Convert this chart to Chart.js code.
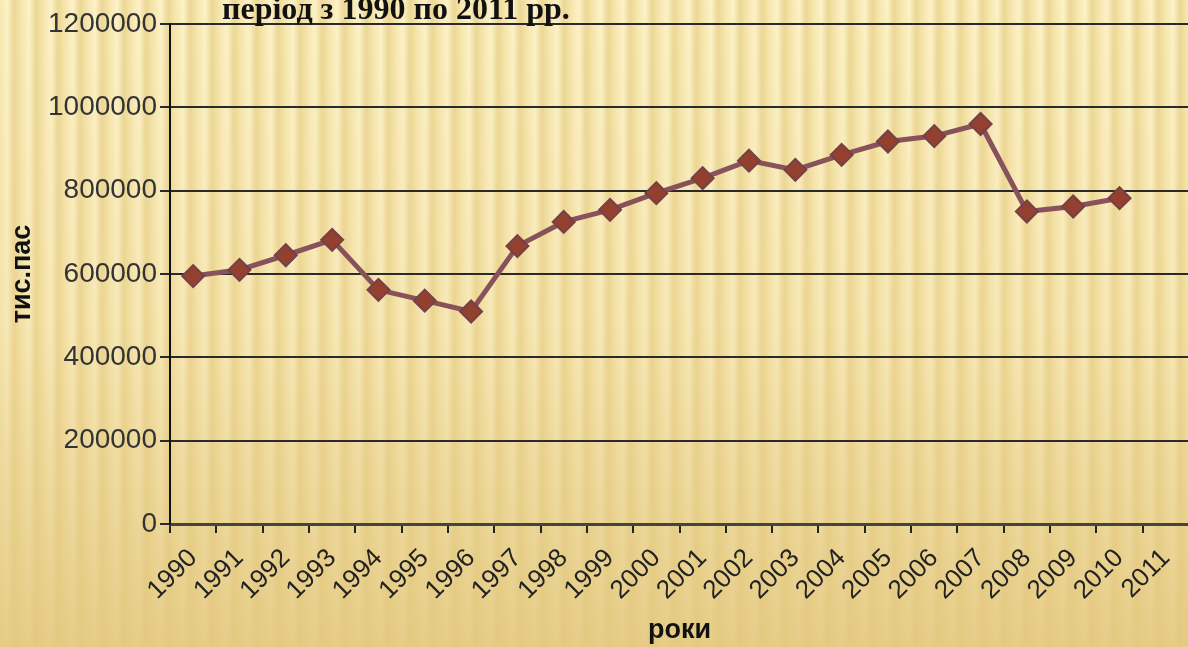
<!DOCTYPE html>
<html>
<head>
<meta charset="utf-8">
<script src="https://cdn.jsdelivr.net/npm/chart.js@4/dist/chart.umd.min.js"></script>
<style>
  html, body { margin: 0; padding: 0; }
  body {
    width: 1188px; height: 647px; overflow: hidden; position: relative;
    background:
      linear-gradient(180deg, rgba(250,238,185,0) 0%, rgba(232,205,135,0.25) 50%, rgba(226,198,125,0.85) 100%),
      repeating-linear-gradient(90deg, #f7e8b0 0px, #fcf2c9 7px, #ecd795 14px, #f7e8b0 22px);
  }
  #wrap { position: absolute; left: 0; top: 0; width: 1188px; height: 647px; overflow: hidden; }
  #title {
    position: absolute; left: 222px; top: -10px; line-height: 1;
    font: bold 32px "Liberation Serif", "Times New Roman", serif; color: #111;
    white-space: nowrap;
  }
</style>
</head>
<body>
<div id="wrap"><canvas id="chart" width="1202" height="647"></canvas></div>
<div id="title">період з 1990 по 2011 рр.</div>
<script>
// years on the x axis (2011 has no value)
const years = ['1990','1991','1992','1993','1994','1995','1996','1997','1998','1999','2000',
  '2001','2002','2003','2004','2005','2006','2007','2008','2009','2010','2011'];

// passengers, thousands
const passengers = [595000, 610000, 645000, 682000, 562000, 536000, 510000, 667000, 725000, 754000, 794000,
  830000, 872000, 850000, 886000, 918000, 931000, 960000, 750000, 762000, 782000, null];

const yTicks = [0, 200000, 400000, 600000, 800000, 1000000, 1200000];

const ctx = document.getElementById('chart');
new Chart(ctx, {
  type: 'line',
  data: {
    labels: years,
    datasets: [{
      label: 'тис.пас',
      data: passengers,
      borderColor: '#88525a',
      borderWidth: 5,
      pointStyle: 'rectRot',
      pointRadius: 11,
      pointHoverRadius: 11,
      pointBackgroundColor: '#94402f',
      pointBorderColor: '#74404a',
      pointBorderWidth: 2,
      tension: 0
    }]
  },
  options: {
    responsive: false,
    animation: false,
    layout: { padding: { top: 24, right: 0, left: 0, bottom: 0 } },
    plugins: { legend: { display: false }, tooltip: { enabled: false } },
    scales: {
      x: {
        offset: true,
        grid: { display: true, drawOnChartArea: false, offset: true, color: '#222', lineWidth: 2, tickLength: 9 },
        border: { color: '#444', width: 3 },
        ticks: {
          minRotation: 45, maxRotation: 45, autoSkip: false, padding: 10,
          color: '#222', font: { family: 'Liberation Sans', size: 26 }
        },
        title: {
          display: true, text: 'роки', color: '#111',
          font: { family: 'Liberation Sans', size: 27, weight: 'bold' },
          padding: { top: 0, bottom: 0 }
        },
        afterFit: (s) => { s.height = 123; }
      },
      y: {
        min: 0, max: 1200000,
        afterBuildTicks: (s) => { s.ticks = yTicks.map(v => ({ value: v })); },
        grid: { color: '#2a2a2a', lineWidth: 2, tickLength: 10 },
        border: { color: '#111', width: 2 },
        ticks: {
          padding: 3, color: '#333',
          font: { family: 'Liberation Sans', size: 28 },
          callback: (v) => String(v)
        },
        title: {
          display: true, text: 'тис.пас', color: '#111',
          font: { family: 'Liberation Sans', size: 27, weight: 'bold' },
          padding: { top: 6, bottom: 0 }
        },
        afterFit: (s) => { s.width = 170; }
      }
    }
  }
});
</script>
</body>
</html>
